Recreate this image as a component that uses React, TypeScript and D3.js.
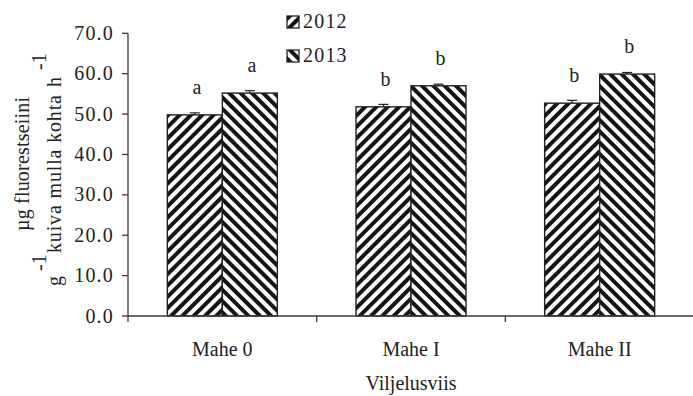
import React from "react";
import * as d3 from "d3";

const categories = ["Mahe 0", "Mahe I", "Mahe II"];
const years = ["2012", "2013"];
const values2012 = [49.8, 51.8, 52.7];
const values2013 = [55.2, 57.0, 59.9];
const errors2012 = [0.5, 0.6, 0.7];
const errors2013 = [0.6, 0.4, 0.4];
const letters2012 = ["a", "b", "b"];
const letters2013 = ["a", "b", "b"];
const yTicks = [0, 10, 20, 30, 40, 50, 60, 70];

const W = 693, H = 396;
const margin = { top: 33, right: 0, bottom: 80, left: 128 };
const FONT = "Liberation Serif";

export default function App() {
  const x0 = d3.scaleBand().domain(categories).range([margin.left, W - margin.right + 1]);
  const x1 = d3.scaleBand().domain(years).range([0, 110]);
  const y = d3.scaleLinear().domain([0, 70]).range([H - margin.bottom, margin.top + 0.3]);

  const series = [
    { year: "2012", values: values2012, errors: errors2012, letters: letters2012, fill: "url(#hatch2012)" },
    { year: "2013", values: values2013, errors: errors2013, letters: letters2013, fill: "url(#hatch2013)" },
  ];
  const axisColor = "#3a3a3a";
  const y0 = y(0);
  const txt = { fontFamily: FONT, fontSize: 20, fill: "#222" };
  const num = { ...txt, letterSpacing: 1.2 };

  return (
    <svg width={W} height={H} style={{ position: "absolute", left: 0, top: 0, background: "#fff" }}>
      <style>{`body{margin:0}`}</style>
      <defs>
        <pattern id="hatch2012" patternUnits="userSpaceOnUse" width="8" height="8" patternTransform="rotate(45)">
          <rect x="0" y="0" width="8" height="8" fill="#fff" />
          <rect x="0" y="0" width="4" height="8" fill="#151515" />
        </pattern>
        <pattern id="hatch2013" patternUnits="userSpaceOnUse" width="8" height="8" patternTransform="rotate(-45)">
          <rect x="0" y="0" width="8" height="8" fill="#fff" />
          <rect x="0" y="0" width="4" height="8" fill="#151515" />
        </pattern>
      </defs>

      {/* bars */}
      {categories.map((c, i) => {
        const gx = x0(c)! + (x0.bandwidth() - 110) / 2;
        return (
          <g key={c} transform={`translate(${gx},0)`}>
            {series.map((s) => {
              const bx = x1(s.year)!;
              const bw = x1.bandwidth();
              const top = y(s.values[i]);
              const cx = bx + bw / 2;
              const et = y(s.values[i] + s.errors[i]);
              return (
                <g key={s.year}>
                  <rect x={bx} y={top} width={bw} height={y0 - top} fill={s.fill} stroke="#222" strokeWidth={1.4} />
                  <line x1={cx} x2={cx} y1={top} y2={et} stroke="#222" strokeWidth={1.2} />
                  <line x1={cx - 5} x2={cx + 5} y1={et} y2={et} stroke="#222" strokeWidth={1.2} />
                  <text x={cx + 2} y={top - 21} textAnchor="middle" style={txt}>{s.letters[i]}</text>
                </g>
              );
            })}
          </g>
        );
      })}

      {/* y axis */}
      <line x1={margin.left} x2={margin.left} y1={y(70)} y2={y0} stroke={axisColor} strokeWidth={1.3} />
      {yTicks.map((t) => (
        <g key={t}>
          <line x1={margin.left - 6} x2={margin.left} y1={y(t)} y2={y(t)} stroke={axisColor} strokeWidth={1.3} />
          <text x={margin.left - 14} y={y(t) + 6.5} textAnchor="end" style={num}>{d3.format(".1f")(t)}</text>
        </g>
      ))}

      {/* x axis */}
      <line x1={margin.left} x2={W} y1={y0} y2={y0} stroke={axisColor} strokeWidth={1.3} />
      {categories.map((c) => (
        <g key={c}>
          <line x1={x0(c)!} x2={x0(c)!} y1={y0} y2={y0 + 6} stroke={axisColor} strokeWidth={1.3} />
          <text x={x0(c)! + x0.bandwidth() / 2} y={y0 + 40} textAnchor="middle" style={txt}>{c}</text>
        </g>
      ))}

      {/* axis titles */}
      <text x={411} y={390} textAnchor="middle" style={txt} fontSize={19.5}>Viljelusviis</text>
      <g transform="translate(29,231) rotate(-90)">
        <text x={0} y={0} style={txt} textLength={134} lengthAdjust="spacing">µg fluorestseiini</text>
      </g>
      <g transform="translate(61,286) rotate(-90)">
        <text x={0} y={0} style={txt}>g</text>
        <text x={15} y={-15} style={txt} fontSize={13}>-1</text>
        <text x={33} y={0} style={txt} textLength={158} lengthAdjust="spacing">kuiva mulla kohta</text>
        <text x={199} y={0} style={txt}>h</text>
        <text x={216} y={-15} style={txt} fontSize={13}>-1</text>
      </g>

      {/* legend */}
      {series.map((s, i) => (
        <g key={s.year} transform={`translate(287,${16 + i * 34})`}>
          <rect x={0} y={0} width={12} height={12} fill={s.fill} stroke="#222" strokeWidth={1.3} />
          <text x={16} y={11.5} style={num}>{s.year}</text>
        </g>
      ))}
    </svg>
  );
}
